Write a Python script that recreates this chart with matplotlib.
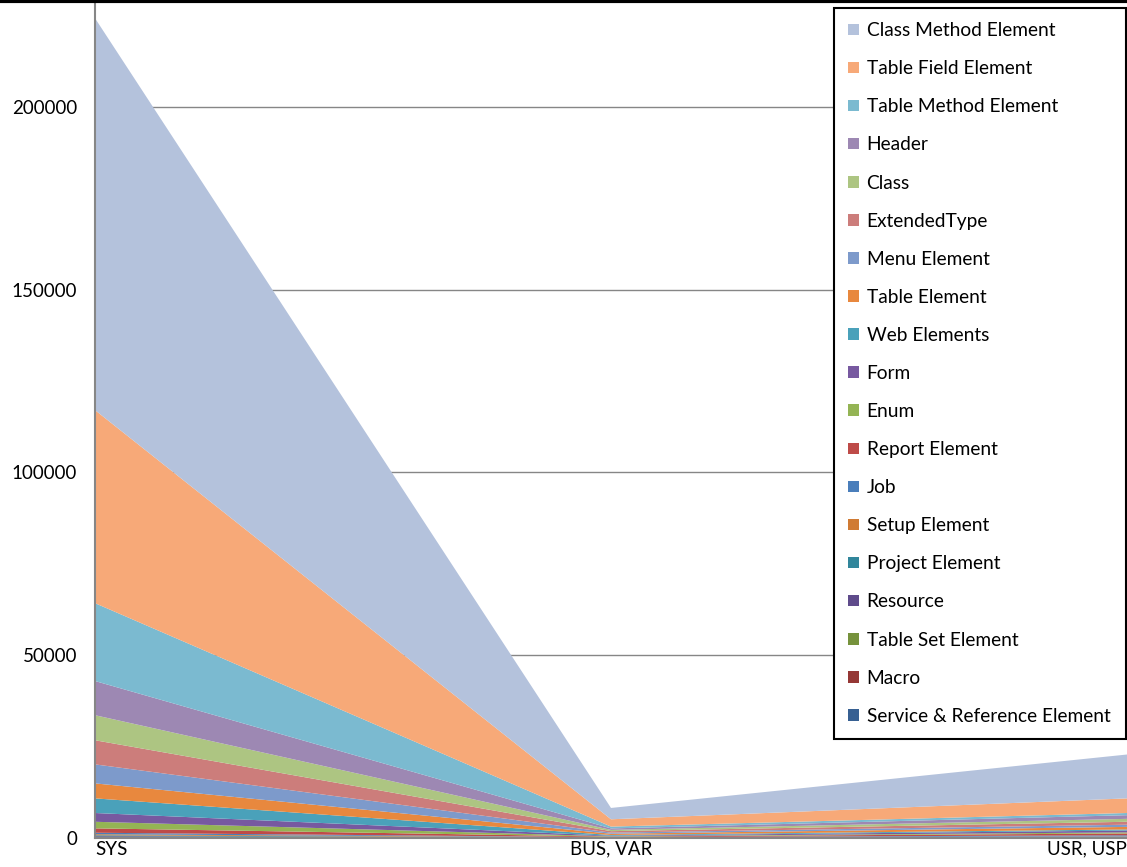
import matplotlib.pyplot as plt
from matplotlib.patches import Patch
from matplotlib.lines import Line2D

categories = ['SYS', 'BUS, VAR', 'USR, USP']

# legend order (top of the stack first)
series_names = [
    'Class Method Element', 'Table Field Element', 'Table Method Element', 'Header',
    'Class', 'ExtendedType', 'Menu Element', 'Table Element', 'Web Elements', 'Form',
    'Enum', 'Report Element', 'Job', 'Setup Element', 'Project Element', 'Resource',
    'Table Set Element', 'Macro', 'Service & Reference Element',
]
sys_vals = [107200, 52800, 21300, 9350, 6850, 6600, 5200, 4100, 4000, 2400,
            1800, 1200, 400, 300, 250, 200, 100, 100, 100]
bus_vals = [3100, 2000, 500, 400, 350, 400, 300, 350, 200, 150,
            100, 150, 50, 50, 50, 20, 20, 20, 20]
usr_vals = [12000, 4000, 600, 1000, 800, 800, 600, 700, 300, 500,
            300, 500, 300, 100, 100, 100, 50, 50, 50]
colors = ['#B4C2DC', '#F7A978', '#7BBAD0', '#9D88B3', '#ADC582', '#CC7D7B',
          '#7D9ACB', '#E8883E', '#4AA1BA', '#7759A0', '#94B454', '#BE4B48',
          '#4A7EBB', '#D07B34', '#31869B', '#5F4B8B', '#76923C', '#953735', '#376092']
yticks = [0, 50000, 100000, 150000, 200000]

plt.rcParams['font.family'] = ['Lato', 'DejaVu Sans']

fig = plt.figure(figsize=(11.27, 8.67), dpi=100)
ax = fig.add_axes([0.0843, 0.0334, 0.9157, 0.9631])

x = list(range(len(categories)))
# stack bottom-up, so reverse the legend order
ys = [[s, b, u] for s, b, u in zip(sys_vals, bus_vals, usr_vals)][::-1]
ax.stackplot(x, ys, colors=colors[::-1], linewidth=0, zorder=2)

ax.set_xlim(0, 2)
ax.set_ylim(0, 228400)
ax.set_yticks(yticks)
ax.set_yticklabels([str(v) for v in yticks], fontsize=13.5)
ax.yaxis.grid(True, color='#868686', linewidth=1, zorder=0)
ax.set_axisbelow(True)
ax.tick_params(axis='y', length=0, pad=13)
ax.tick_params(axis='x', length=0, pad=2)
ax.set_xticks(x)
ax.set_xticklabels(categories, fontsize=13.5)
labels = ax.get_xticklabels()
labels[0].set_ha('left')
labels[-1].set_ha('right')

for side in ['top', 'right']:
    ax.spines[side].set_visible(False)
for side in ['left', 'bottom']:
    ax.spines[side].set_color('#868686')
    ax.spines[side].set_linewidth(1.5)

handles = [Patch(facecolor=c, edgecolor='none') for c in colors]
leg = fig.legend(handles, series_names, loc='upper left',
                 bbox_to_anchor=(0.740, 0.144, 0.259, 0.847), mode='expand',
                 fontsize=13.8, frameon=True, fancybox=False, framealpha=1,
                 handlelength=0.55, handleheight=0.55, handletextpad=0.4,
                 labelspacing=1.10, borderpad=0.75, borderaxespad=0)
leg.get_frame().set_edgecolor('black')
leg.get_frame().set_linewidth(1.5)

fig.add_artist(Line2D([0, 1], [0.9985, 0.9985], transform=fig.transFigure,
                      color='black', linewidth=3))

fig.savefig('out.png', dpi=100)
